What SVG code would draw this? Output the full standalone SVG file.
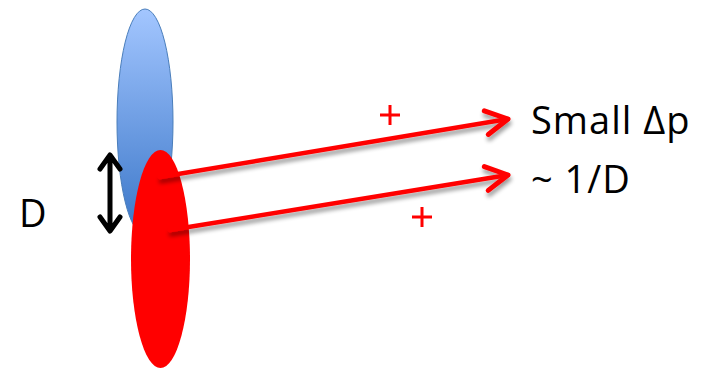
<svg xmlns="http://www.w3.org/2000/svg" width="712" height="368" viewBox="0 0 712 368">
<defs>
<linearGradient id="blueGrad" x1="0" y1="0" x2="0" y2="1">
<stop offset="0" stop-color="#a3c6ff"/>
<stop offset="1" stop-color="#3a76c8"/>
</linearGradient>
<filter id="shadow" x="-10%" y="-50%" width="120%" height="200%">
<feGaussianBlur in="SourceAlpha" stdDeviation="2"/>
<feOffset dx="1" dy="4" result="b"/>
<feComponentTransfer><feFuncA type="linear" slope="0.4"/></feComponentTransfer>
<feMerge><feMergeNode/><feMergeNode in="SourceGraphic"/></feMerge>
</filter>
<marker id="redHead" markerWidth="10" markerHeight="10" refX="8" refY="5" orient="auto" markerUnits="userSpaceOnUse" viewBox="0 0 10 10" overflow="visible">
<polyline points="-14,-7 8,5 -14,17" fill="none" stroke="#ff0000" stroke-width="5" stroke-linecap="round" stroke-linejoin="round"/>
</marker>
</defs>
<style>
.lbl{font-family:"Open Sans","Noto Sans","Liberation Sans",sans-serif;font-size:38px;letter-spacing:1px;fill:#000}
.plus{stroke:#ff0000;stroke-width:3;fill:none}
.conn{stroke:#ff0000;stroke-width:4.5;fill:none;stroke-linecap:round}
.dbl{stroke:#000;stroke-width:5;fill:none;stroke-linecap:round;stroke-linejoin:round}
</style>
<g id="blue-bunch">
<ellipse cx="145" cy="122" rx="28" ry="113" fill="url(#blueGrad)" stroke="#4a7ebb" stroke-width="1"/>
</g>
<g id="red-bunch">
<ellipse cx="160.5" cy="259" rx="29.5" ry="109" fill="#ff0000"/>
</g>
<g id="connectors">
<line class="conn" x1="160" y1="177" x2="508" y2="119" marker-end="url(#redHead)" filter="url(#shadow)"/>
<line class="conn" x1="170" y1="230" x2="508" y2="175" marker-end="url(#redHead)" filter="url(#shadow)"/>
<path class="dbl" d="M110,156 V230 M100,169 L110,155 L120,169 M100,217 L110,231 L120,217"/>
</g>
<g id="plus-signs">
<path class="plus" d="M380,115 H400 M390,105 V125"/>
<path class="plus" d="M412,217 H432 M422,207 V227"/>
</g>
<g id="labels">
<text class="lbl" x="531" y="134">Small Δp</text>
<text class="lbl" x="531" y="193">~ 1/D</text>
<text class="lbl" x="19" y="227">D</text>
</g>
</svg>
